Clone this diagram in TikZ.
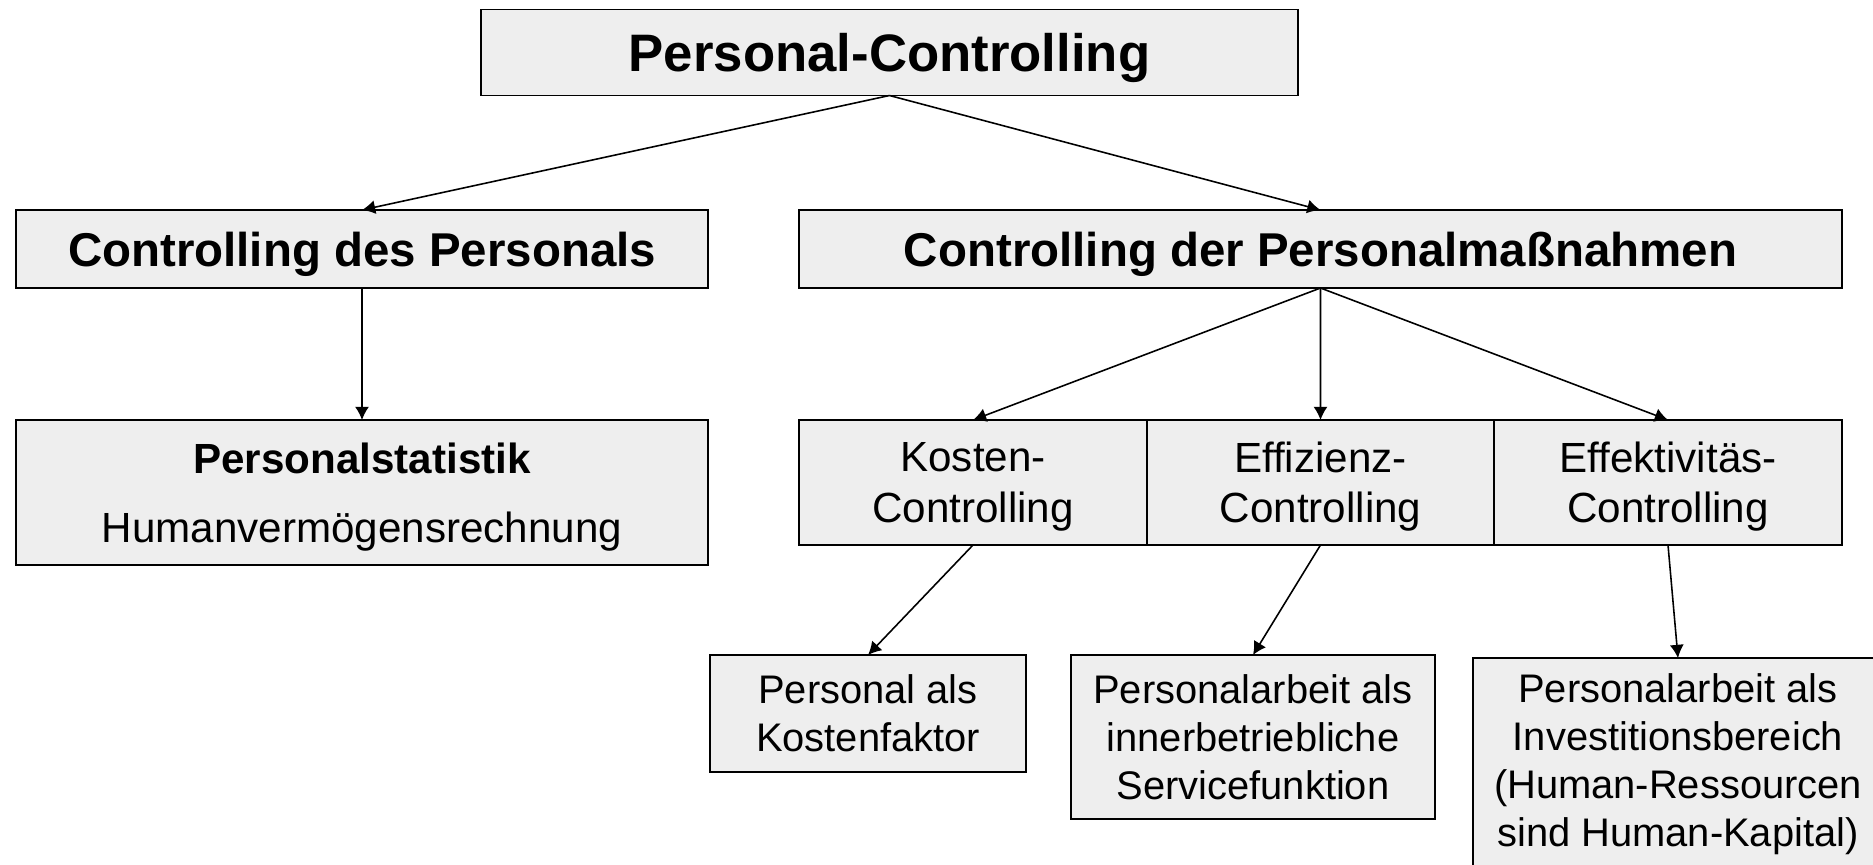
\documentclass[tikz,border=0pt]{standalone}
\usepackage{fontspec}
\setmainfont{Liberation Sans}
\usetikzlibrary{arrows.meta,positioning}
\definecolor{boxfill}{RGB}{238,238,238}

\begin{document}
\begin{tikzpicture}[box/.style={draw, fill=boxfill, line width=0.9pt, align=center,
                                inner sep=0pt, outer sep=0pt,
                                font=\fontsize{24}{28.5}\selectfont},
                    small/.style={font=\fontsize{22.7}{27.2}\selectfont},
                    arr/.style={-{Latex[length=7.5pt,width=8pt]}, line width=0.9pt}]
\useasboundingbox (0,0) rectangle (37.46,-17.28);
\clip (0,0) rectangle (37.46,-17.28);
% levels 1 and 2
\node[box, minimum width=16.34cm, minimum height=1.72cm, text depth=0pt,
      font=\bfseries\fontsize{30}{36}\selectfont] (top) at (17.79,-1.05) {Personal-Controlling};
\node[box, minimum width=13.84cm, minimum height=1.56cm, text depth=0pt,
      font=\bfseries\fontsize{27}{32}\selectfont] (cdp) at (7.24,-4.98) {Controlling des Personals};
\node[box, minimum width=20.86cm, minimum height=1.56cm, text depth=0pt,
      font=\bfseries\fontsize{27}{32}\selectfont] (cdm) at (26.41,-4.98) {Controlling der Personalmaßnahmen};
% level 3
\node[box, minimum width=13.84cm, minimum height=2.90cm, text depth=0pt] (stat) at (7.24,-9.85)
  {\textbf{Personalstatistik}\\[11pt] Humanvermögensrechnung};
\node[box, minimum width=6.95cm, minimum height=2.50cm, text depth=0pt] (kost) at (19.46,-9.65) {Kosten-\\Controlling};
\node[box, minimum width=6.95cm, minimum height=2.50cm, text depth=0pt, right=0pt of kost] (eff) {Effizienz-\\Controlling};
\node[box, minimum width=6.95cm, minimum height=2.50cm, text depth=0pt, right=0pt of eff] (efk) {Effektivitäs-\\Controlling};
% level 4
\node[box, small, minimum width=6.32cm, minimum height=2.34cm] (pak) at (17.36,-14.27) {Personal als\\Kostenfaktor};
\node[box, small, minimum width=7.28cm, minimum height=3.28cm] (inb) at (25.06,-14.74)
  {Personalarbeit als\\innerbetriebliche\\Servicefunktion};
\node[box, small, minimum width=8.20cm, minimum height=4.24cm] (inv) at (33.56,-15.28)
  {Personalarbeit als\\Investitionsbereich\\(Human-Ressourcen\\sind Human-Kapital)};
\foreach \a/\b in {top/cdp, top/cdm, cdp/stat, cdm/kost, cdm/eff, cdm/efk, kost/pak, eff/inb, efk/inv}
  \draw[arr] (\a.south) -- (\b.north);
\end{tikzpicture}
\end{document}
